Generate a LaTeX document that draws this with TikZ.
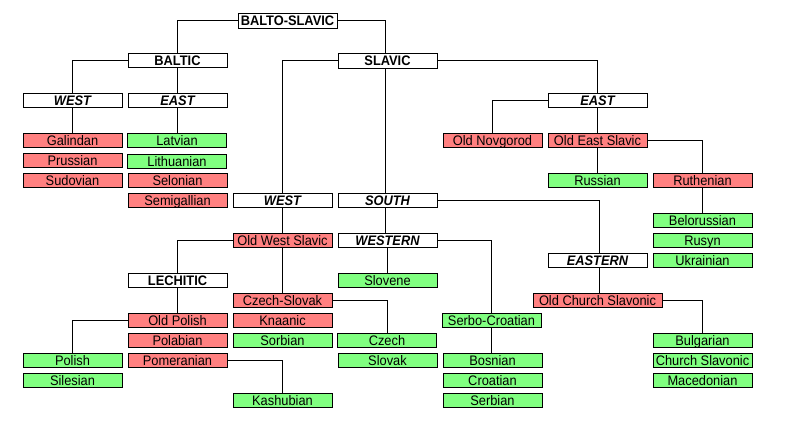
\documentclass[tikz,border=0pt]{standalone}
\usepackage{fontspec}
\setmainfont{Liberation Sans}[FakeStretch=0.93]
\definecolor{deadc}{HTML}{FF8080}
\definecolor{livec}{HTML}{80FF80}
\begin{document}
\begin{tikzpicture}[x=1pt,y=-1pt,
  box/.style={draw, line width=0.9pt, minimum width=99pt, minimum height=14pt, inner sep=0pt,
    text height=10.6pt, text depth=0.4pt, font=\fontsize{13.8}{14}\selectfont},
  grp/.style={box, fill=white, font=\fontsize{13.8}{14}\selectfont\bfseries},
  sub/.style={box, fill=white, font=\fontsize{13.8}{14}\selectfont\bfseries\itshape},
  dead/.style={box, fill=deadc},
  live/.style={box, fill=livec},
  link/.style={draw, line width=0.9pt}]
\useasboundingbox (0,0) rectangle (793,427);
% headings
\node[grp, minimum height=15pt] (bs) at (287.5,20.5) {BALTO-SLAVIC};
\node[grp] (baltic) at (177.5,60) {BALTIC};
\node[grp, minimum height=15pt] (slavic) at (387.5,60.5) {SLAVIC};
\node[sub] (bwest) at (72.5,100) {WEST};
\node[sub] (beast) at (177.5,100) {EAST};
\node[sub] (swest) at (282.5,200) {WEST};
\node[sub] (south) at (387.5,200) {SOUTH};
\node[sub] (seast) at (597.5,100) {EAST};
\node[sub] (western) at (387.5,240) {WESTERN};
\node[sub] (eastern) at (597.5,260) {EASTERN};
\node[grp] (lechitic) at (177.5,280) {LECHITIC};
% baltic
\node[dead] (galindan) at (72.5,140) {Galindan};
\node[dead] (prussian) at (72.5,160) {Prussian};
\node[dead] (sudovian) at (72.5,180) {Sudovian};
\node[live] (latvian) at (177,140) {Latvian};
\node[live] (lithuanian) at (177,161) {Lithuanian};
\node[dead] (selonian) at (177.5,180) {Selonian};
\node[dead] (semigallian) at (177.5,200) {Semigallian};
% east slavic
\node[dead] (novgorod) at (492.5,140) {Old Novgorod};
\node[dead] (oes) at (597.5,140) {Old East Slavic};
\node[live] (russian) at (597.5,180) {Russian};
\node[dead] (ruthenian) at (702.5,180) {Ruthenian};
\node[live] (belorussian) at (702.5,220.5) {Belorussian};
\node[live] (rusyn) at (702.5,240) {Rusyn};
\node[live] (ukrainian) at (702.5,260) {Ukrainian};
% west slavic
\node[dead] (ows) at (282.5,240) {Old West Slavic};
\node[dead] (czsl) at (282.5,300) {Czech-Slovak};
\node[dead] (knaanic) at (282.5,320) {Knaanic};
\node[live] (sorbian) at (282.5,340) {Sorbian};
\node[live] (kashubian) at (282.5,400) {Kashubian};
\node[dead] (oldpolish) at (177.5,320) {Old Polish};
\node[dead] (polabian) at (177.5,340) {Polabian};
\node[dead] (pomeranian) at (177.5,360) {Pomeranian};
\node[live] (polish) at (72.5,360) {Polish};
\node[live] (silesian) at (72.5,380) {Silesian};
\node[live] (czech) at (387,340) {Czech};
\node[live] (slovak) at (387.5,360) {Slovak};
% south slavic
\node[live] (slovene) at (387.5,280) {Slovene};
\node[live] (serbocro) at (491.5,320) {Serbo-Croatian};
\node[live] (bosnian) at (492.5,360.5) {Bosnian};
\node[live] (croatian) at (492.5,380.5) {Croatian};
\node[live] (serbian) at (492.5,400) {Serbian};
\node[dead, minimum width=129pt] (ocs) at (597.5,300) {Old Church Slavonic};
\node[live] (bulgarian) at (702.5,340.5) {Bulgarian};
\node[live] (churchsl) at (702.5,360.5) {Church Slavonic};
\node[live] (macedonian) at (702.5,380) {Macedonian};
% connectors
\draw[link] (bs.west) -| (baltic.north);
\draw[link] (bs.east) -| ([xshift=-2pt]slavic.north);
\draw[link] (baltic.west) -| (bwest.north);
\draw[link] (baltic.south) -- (beast.north);
\draw[link] (bwest.south) -- (galindan.north);
\draw[link] (beast.south) -- (latvian.north -| beast.south);
\draw[link] (slavic.west) -| (swest.north);
\draw[link] ([xshift=-2pt]slavic.south) -- ([xshift=-2pt]south.north);
\draw[link] (slavic.east) -| (seast.north);
\draw[link] (seast.west) -| (novgorod.north);
\draw[link] (seast.south) -- (oes.north);
\draw[link] (oes.east) -| (ruthenian.north);
\draw[link] (oes.south) -- (russian.north);
\draw[link] (ruthenian.south) -- (belorussian.north);
\draw[link] (south.east) -| ([xshift=2pt]eastern.north);
\draw[link] ([xshift=-2pt]south.south) -- ([xshift=-2pt]western.north);
\draw[link] (western.south) -- (slovene.north);
\draw[link] (western.east) -| (serbocro.north);
\draw[link] (serbocro.south) -- (serbocro.south |- bosnian.north);
\draw[link] ([xshift=2pt]eastern.south) -- ([xshift=2pt]ocs.north);
\draw[link] (ocs.east) -| (bulgarian.north);
\draw[link] (swest.south) -- (ows.north);
\draw[link] (ows.west) -| (lechitic.north);
\draw[link] (ows.south) -- (czsl.north);
\draw[link] (lechitic.south) -- (oldpolish.north);
\draw[link] (oldpolish.west) -| (polish.north);
\draw[link] (czsl.east) -| (czech.north);
\draw[link] (pomeranian.east) -| (kashubian.north);
\end{tikzpicture}
\end{document}
